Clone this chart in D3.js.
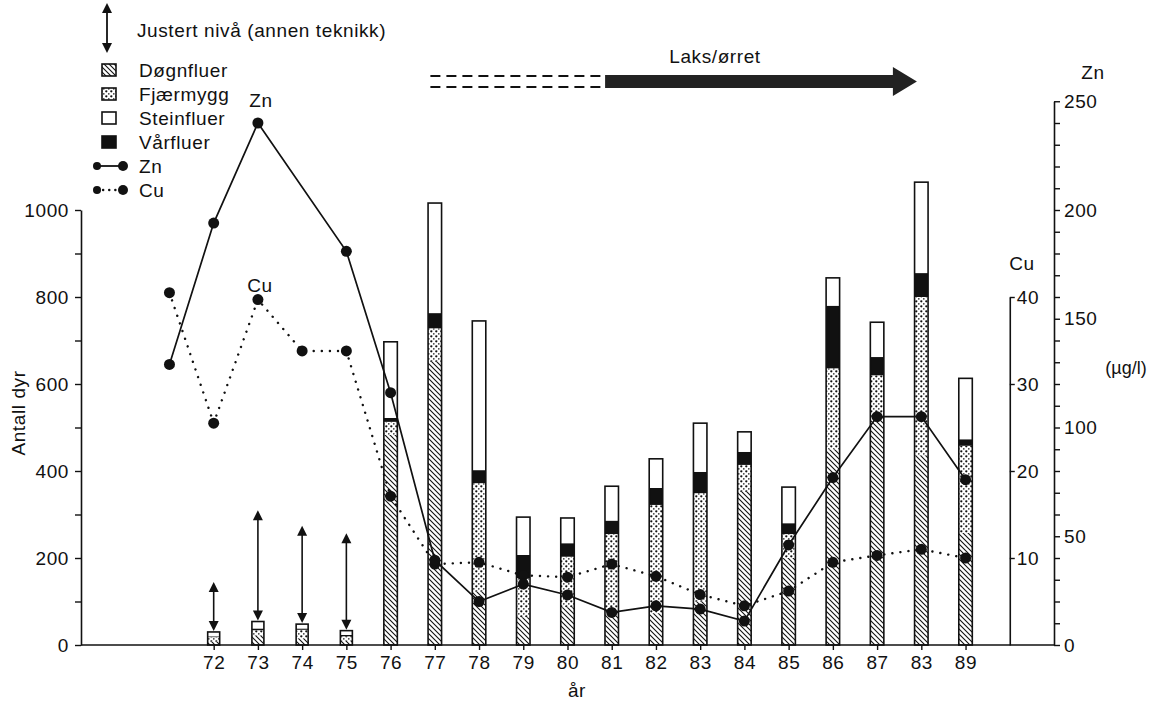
<!DOCTYPE html>
<html><head><meta charset="utf-8">
<script src="https://cdn.jsdelivr.net/npm/d3@7/dist/d3.min.js"></script>
<style>
body{margin:0;background:#fff}
svg{display:block}
text{font-family:"Liberation Sans",Arial,sans-serif;fill:#111;letter-spacing:0.6px}
</style>
</head><body>
<svg id="c" width="1153" height="701"></svg>
<script>
// ---------- data ----------
const years      = [72,73,74,75,76,77,78,79,80,81,82,83,84,85,86,87,88,89];
const yearLabels = ["72","73","74","75","76","77","78","79","80","81","82","83","84","85","86","87","83","89"];
const dognfluer  = [8, 22,15,10,483,651,123, 64, 87, 80, 73,100,352,200,450,525,436,258];
const fjaermygg  = [10,12,20,10, 30, 77,249, 90,116,175,249,249, 62, 55,186, 95,364,200];
const varfluer   = [2,  4, 3, 3,  9, 35, 30, 53, 31, 31, 39, 49, 30, 25,144, 42, 55, 15];
const steinfluer = [10,16,10,10,175,253,343, 87, 58, 79, 67,112, 46, 83, 64, 80,209,140];

const adjustedYears = [72,73,74,75];
const adjustedLevel = [145,310,274,257];

const metalYears = [71,72,73,74,75,76,77,78,79,80,81,82,83,84,85,86,87,88,89];
const zn = [129,194,240,null,181,116,39,20,28,23,15,18,16.5,11,46,77,105,105,76];
const cu = [40.5,25.5,39.7,33.8,33.8,17.1,9.3,9.5,8,7.8,9.3,7.9,5.8,4.5,6.2,9.5,10.3,11,10];

const leftTicks = [0,100,200,300,400,500,600,700,800,900,1000];
const znTicks = d3.range(0,251,10);
const cuTicks = [10,20,30,40];
const fishYears = [76.9, 80.85, 87.9];

const keys = ["Døgnfluer","Fjærmygg","Vårfluer","Steinfluer"];
const legendKeys = ["Døgnfluer","Fjærmygg","Steinfluer","Vårfluer"];

// ---------- scales ----------
const svg = d3.select("#c");
const x = d3.scaleLinear().domain([69,91]).range([81,1054]);
const y = d3.scaleLinear().domain([0,1000]).range([645,210]);
const yZn = d3.scaleLinear().domain([0,250]).range([645, y(1250)]);
const yCu = d3.scaleLinear().domain([0,40]).range([645, y(800)]);
const FS = 19;

// ---------- patterns ----------
const defs = svg.append("defs");
const hatch = defs.append("pattern").attr("id","hatch").attr("patternUnits","userSpaceOnUse")
  .attr("width",5).attr("height",5);
hatch.append("rect").attr("width",5).attr("height",5).attr("fill","#fff");
hatch.append("path").attr("d","M-1,-1L6,6M-1,4L1,6M4,-1L6,1").attr("stroke","#111").attr("stroke-width",1.1);
const dots = defs.append("pattern").attr("id","dots").attr("patternUnits","userSpaceOnUse")
  .attr("width",5).attr("height",5);
dots.append("rect").attr("width",5).attr("height",5).attr("fill","#fff");
dots.append("circle").attr("cx",1.3).attr("cy",1.3).attr("r",1.15).attr("fill","#111");
dots.append("circle").attr("cx",3.8).attr("cy",3.8).attr("r",0.85).attr("fill","#333");

const fills = {"Døgnfluer":"url(#hatch)","Fjærmygg":"url(#dots)","Vårfluer":"#111","Steinfluer":"#fff"};

// ---------- bars ----------
const table = years.map((yr,i)=>({year:yr,"Døgnfluer":dognfluer[i],"Fjærmygg":fjaermygg[i],"Vårfluer":varfluer[i],"Steinfluer":steinfluer[i]}));
const series = d3.stack().keys(keys)(table);
const bw = d=> d.year < 76 ? 12 : 13.5;
const total = d=> keys.reduce((a,k)=>a+d[k],0);
const gBars = svg.append("g");
series.forEach(s=>{
  gBars.selectAll(null).data(s).join("rect")
    .attr("x",d=>x(d.data.year)-bw(d.data)/2).attr("width",d=>bw(d.data))
    .attr("y",d=>y(d[1])).attr("height",d=>y(d[0])-y(d[1]))
    .attr("fill",fills[s.key]).attr("stroke","none");
});
gBars.selectAll(null).data(table).join("rect")
  .attr("x",d=>x(d.year)-bw(d)/2).attr("width",d=>bw(d))
  .attr("y",d=>y(total(d)))
  .attr("height",d=>y(0)-y(total(d)))
  .attr("fill","none").attr("stroke","#111").attr("stroke-width",1.6);

// ---------- axes ----------
const gl = svg.append("g").attr("transform",`translate(${x(69)},0)`)
  .call(d3.axisLeft(y).tickValues(leftTicks).tickFormat(d=>d%200===0?d:"").tickSize(6).tickSizeOuter(0));
gl.selectAll("text").style("font-size",FS+"px").attr("x",-12);
gl.selectAll(".tick line").attr("stroke","#111").attr("stroke-width",1.4);
gl.select(".domain").attr("stroke","#111").attr("stroke-width",1.6);
svg.append("line").attr("x1",x(69)).attr("x2",x(91)).attr("y1",y(0)).attr("y2",y(0)).attr("stroke","#111").attr("stroke-width",1.6);
const gb = svg.append("g").attr("transform",`translate(0,${y(0)})`)
  .call(d3.axisBottom(x).tickValues(years).tickFormat((d,i)=>yearLabels[i]).tickSize(5).tickSizeOuter(0));
gb.select(".domain").remove();
gb.selectAll(".tick line").attr("stroke","#111").attr("stroke-width",1.4);
gb.selectAll("text").style("font-size",FS+"px").attr("y",11);
const gz = svg.append("g").attr("transform",`translate(${x(91)},0)`)
  .call(d3.axisRight(yZn).tickValues(znTicks).tickFormat(d=>d%50===0?d:"").tickSize(6).tickSizeOuter(0));
gz.selectAll("text").style("font-size",FS+"px").attr("x",10);
gz.selectAll(".tick line").attr("stroke","#111").attr("stroke-width",1.4);
gz.select(".domain").attr("stroke","#111").attr("stroke-width",1.6);
const gc = svg.append("g").attr("transform",`translate(${x(90)},0)`)
  .call(d3.axisRight(yCu).tickValues(cuTicks).tickSize(5).tickSizeOuter(0));
gc.selectAll("text").style("font-size",FS+"px").attr("x",7);
gc.selectAll(".tick line").attr("stroke","#111").attr("stroke-width",1.4);
gc.select(".domain").attr("stroke","#111").attr("stroke-width",1.6);

// ---------- lines ----------
const znPts = metalYears.map((yr,i)=>({year:yr,v:zn[i]})).filter(d=>d.v!==null);
const cuPts = metalYears.map((yr,i)=>({year:yr,v:cu[i]}));
svg.append("path").datum(cuPts)
  .attr("d",d3.line().x(d=>x(d.year)).y(d=>yCu(d.v)))
  .attr("fill","none").attr("stroke","#111").attr("stroke-width",2.4)
  .attr("stroke-linecap","round").attr("stroke-dasharray","0.1,8");
svg.append("path").datum(znPts)
  .attr("d",d3.line().x(d=>x(d.year)).y(d=>yZn(d.v)))
  .attr("fill","none").attr("stroke","#111").attr("stroke-width",1.7);
svg.selectAll(null).data(cuPts).join("circle")
  .attr("cx",d=>x(d.year)).attr("cy",d=>yCu(d.v)).attr("r",5.5).attr("fill","#111");
svg.selectAll(null).data(znPts).join("circle")
  .attr("cx",d=>x(d.year)).attr("cy",d=>yZn(d.v)).attr("r",5.5).attr("fill","#111");

// ---------- adjusted-level arrows ----------
const adj = adjustedYears.map((yr,i)=>{
  const k = years.indexOf(yr);
  return {year:yr, lo:total(table[k]), hi:adjustedLevel[i]};
});
const ga = svg.append("g");
adj.forEach(d=>{
  const cx = x(d.year), yt = y(d.hi), yb = y(d.lo)-1;
  ga.append("line").attr("x1",cx).attr("x2",cx).attr("y1",yt+8).attr("y2",yb-8).attr("stroke","#111").attr("stroke-width",1.6);
  ga.append("path").attr("d",`M${cx},${yt}L${cx-5},${yt+10}L${cx+5},${yt+10}Z`).attr("fill","#111");
  ga.append("path").attr("d",`M${cx},${yb}L${cx-5},${yb-10}L${cx+5},${yb-10}Z`).attr("fill","#111");
});

// ---------- Laks/ørret arrow ----------
const fx0 = x(fishYears[0]), fx1 = x(fishYears[1]), fx2 = x(fishYears[2]);
[76,87].forEach(yy=>{
  svg.append("line").attr("x1",fx0).attr("x2",fx1).attr("y1",yy).attr("y2",yy)
    .attr("stroke","#111").attr("stroke-width",1.8).attr("stroke-dasharray","10,6");
});
svg.append("path").attr("d",`M${fx1},75L${fx2-24},75L${fx2-24},67L${fx2},81.5L${fx2-24},96L${fx2-24},88L${fx1},88Z`).attr("fill","#222");
svg.append("text").attr("x",715).attr("y",63).attr("text-anchor","middle").style("font-size",FS+"px").text("Laks/ørret");

// ---------- labels ----------
svg.append("text").attr("x",261).attr("y",107).attr("text-anchor","middle").style("font-size",FS+"px").text("Zn");
svg.append("text").attr("x",260).attr("y",292).attr("text-anchor","middle").style("font-size",FS+"px").text("Cu");
svg.append("text").attr("x",1093).attr("y",79).attr("text-anchor","middle").style("font-size",FS+"px").text("Zn");
svg.append("text").attr("x",1022).attr("y",270).attr("text-anchor","middle").style("font-size",FS+"px").text("Cu");
svg.append("text").attr("x",1126).attr("y",374).attr("text-anchor","middle").style("font-size","18px").style("letter-spacing","0px").text("(µg/l)");
svg.append("text").attr("x",577).attr("y",697).attr("text-anchor","middle").style("font-size",FS+"px").text("år");
svg.append("text").attr("transform","translate(25,413) rotate(-90)").attr("text-anchor","middle").style("font-size",FS+"px").text("Antall dyr");

// ---------- legend ----------
const lg = svg.append("g");
lg.append("line").attr("x1",107).attr("x2",107).attr("y1",10).attr("y2",46).attr("stroke","#111").attr("stroke-width",1.8);
lg.append("path").attr("d","M107,3L102,13L112,13Z").attr("fill","#111");
lg.append("path").attr("d","M107,53L102,43L112,43Z").attr("fill","#111");
lg.append("text").attr("x",137).attr("y",37).style("font-size",FS+"px").text("Justert nivå (annen teknikk)");
const rowY = [70,94,118,142,166,190];
legendKeys.forEach((k,i)=>{
  lg.append("rect").attr("x",102).attr("y",rowY[i]-6).attr("width",14).attr("height",12)
    .attr("fill",fills[k]).attr("stroke","#111").attr("stroke-width",1.6);
  lg.append("text").attr("x",139).attr("y",rowY[i]+7).style("font-size",FS+"px").text(k);
});
lg.append("line").attr("x1",97).attr("x2",123).attr("y1",rowY[4]).attr("y2",rowY[4]).attr("stroke","#111").attr("stroke-width",1.8);
lg.append("circle").attr("cx",97).attr("cy",rowY[4]).attr("r",4).attr("fill","#111");
lg.append("circle").attr("cx",123).attr("cy",rowY[4]).attr("r",5).attr("fill","#111");
lg.append("text").attr("x",139).attr("y",rowY[4]+7).style("font-size",FS+"px").text("Zn");
lg.append("line").attr("x1",97).attr("x2",123).attr("y1",rowY[5]).attr("y2",rowY[5]).attr("stroke","#111").attr("stroke-width",2.4)
  .attr("stroke-linecap","round").attr("stroke-dasharray","0.1,6");
lg.append("circle").attr("cx",97).attr("cy",rowY[5]).attr("r",4).attr("fill","#111");
lg.append("circle").attr("cx",123).attr("cy",rowY[5]).attr("r",5).attr("fill","#111");
lg.append("text").attr("x",139).attr("y",rowY[5]+7).style("font-size",FS+"px").text("Cu");
</script>
</body></html>
